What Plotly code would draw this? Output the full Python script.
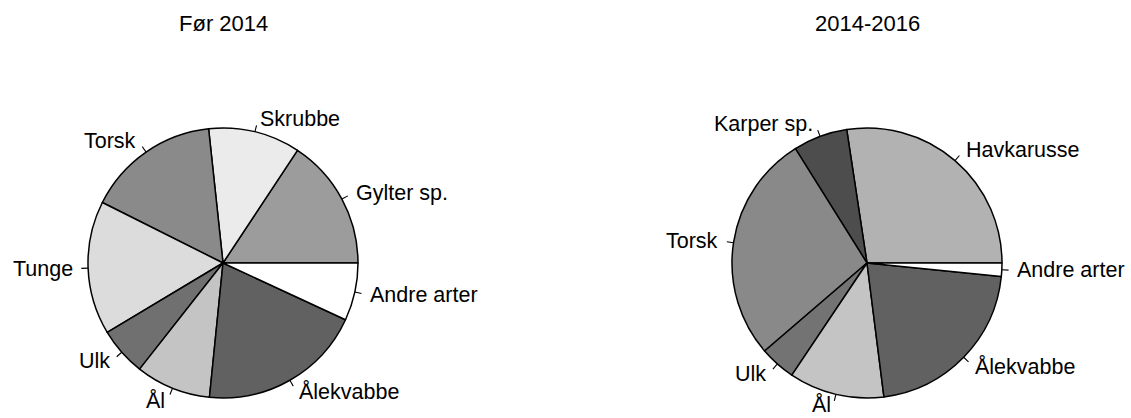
import math
import plotly.graph_objects as go

# Før 2014
labels_1 = ["Gylter sp.", "Skrubbe", "Torsk", "Tunge", "Ulk", "Ål", "Ålekvabbe", "Andre arter"]
values_1 = [15.7, 11.0, 15.9, 16.0, 5.8, 9.0, 19.7, 6.9]
colors_1 = ["#9c9c9c", "#ebebeb", "#8a8a8a", "#dcdcdc", "#707070", "#c4c4c4", "#616161", "#ffffff"]

# 2014-2016
labels_2 = ["Havkarusse", "Karper sp.", "Torsk", "Ulk", "Ål", "Ålekvabbe", "Andre arter"]
values_2 = [27.4, 6.5, 27.4, 4.3, 11.4, 21.4, 1.6]
colors_2 = ["#b2b2b2", "#4d4d4d", "#898989", "#737373", "#c4c4c4", "#616161", "#ffffff"]

titles = ["Før 2014", "2014-2016"]

W, H = 1131, 418
R = 135
centers = [(223, 263), (867, 263)]
font = dict(family="Liberation Sans, Arial", size=21.5, color="black")

fig = go.Figure()
annotations = []
shapes = []

for (cx, cy), labels, values, colors, title in zip(
        centers, [labels_1, labels_2], [values_1, values_2], [colors_1, colors_2], titles):
    total = sum(values)
    # first slice starts at 3 o'clock, going counterclockwise (like R's pie)
    rot = 90 - values[0] / total * 360
    fig.add_trace(go.Pie(
        labels=labels, values=values, sort=False,
        direction="counterclockwise", rotation=rot,
        marker=dict(colors=colors, line=dict(color="black", width=1.5)),
        textinfo="none", hoverinfo="label+percent", showlegend=False,
        domain=dict(x=[(cx - R) / W, (cx + R) / W], y=[1 - (cy + R) / H, 1 - (cy - R) / H]),
    ))
    # R-style labels: tick from 1.0 to 1.05 radius, text at 1.1
    start = 0.0
    for lab, v in zip(labels, values):
        mid = math.radians((start + v / 2) / total * 360)
        start += v
        c, s = math.cos(mid), math.sin(mid)
        x0, y0 = cx + R * c, cy - R * s
        x1, y1 = cx + 1.05 * R * c, cy - 1.05 * R * s
        shapes.append(dict(type="line", xref="paper", yref="paper",
                           x0=x0 / W, y0=1 - y0 / H, x1=x1 / W, y1=1 - y1 / H,
                           line=dict(color="black", width=1.1)))
        tx, ty = cx + 1.1 * R * c, cy - 1.1 * R * s
        ty = min(ty, H - 13)  # keep bottom labels inside the page
        annotations.append(dict(text=lab, xref="paper", yref="paper",
                                x=tx / W, y=1 - ty / H, showarrow=False,
                                xanchor="left" if c > 0 else "right", yanchor="middle",
                                font=font))
    annotations.append(dict(text=title, xref="paper", yref="paper",
                            x=cx / W, y=1 - 24 / H, showarrow=False,
                            xanchor="center", yanchor="middle",
                            font=dict(font, size=22)))

fig.update_layout(
    width=W, height=H,
    margin=dict(l=0, r=0, t=0, b=0),
    paper_bgcolor="white", plot_bgcolor="white",
    annotations=annotations, shapes=shapes,
)

fig.write_html("out.html", config={"displayModeBar": False},
               post_script="document.body.style.margin='0';")
